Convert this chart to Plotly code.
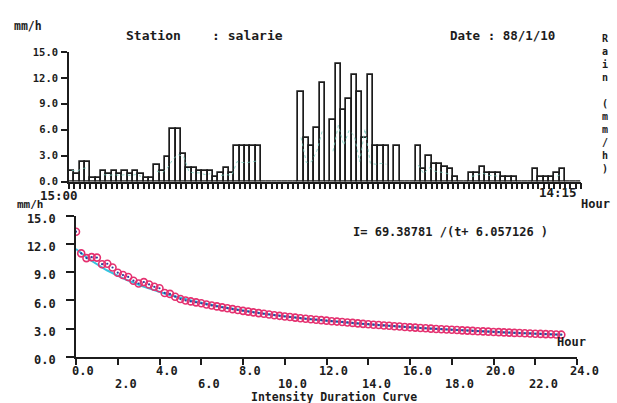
import numpy as np
import plotly.graph_objects as go

W, H = 617, 403

# ---------------- data ----------------
station = "salarie"
date_txt = "88/1/10"
start_label = "15:00"
end_label = "14:15"
right_label = "Rain (mm/h)"

# 15-minute rainfall intensity bars (mm/h), 96 intervals
bar_values = [
    1.25, 0.9, 2.3, 2.3, 0.4, 0.4, 1.25, 0.9, 1.25, 0.9,
    1.25, 0.9, 1.25, 0.9, 0.4, 0.4, 1.9, 1.25, 2.8, 6.1,
    6.1, 3.2, 1.6, 1.6, 1.25, 1.25, 1.25, 0.5, 1.0, 1.6,
    1.0, 4.15, 4.15, 4.15, 4.15, 4.15, 0, 0, 0, 0,
    0, 0, 0, 10.4, 5.0, 4.15, 6.2, 11.4, 0, 7.1,
    13.6, 8.3, 9.6, 12.3, 10.4, 5.0, 12.3, 4.15, 4.15, 4.15,
    0, 4.15, 0, 0, 0, 4.15, 1.5, 3.0, 2.0, 2.0,
    1.65, 1.4, 0.55, 0, 0, 1.0, 1.0, 1.65, 1.0, 1.0,
    1.0, 0.55, 0.55, 0.55, 0, 0, 0, 1.4, 0.55, 0.55,
    0.55, 1.0, 1.4, 0, 0, 0,
]

# faint secondary trace drawn inside the bars
inner_values = [
    1.3, 1.2, 1.5, 1.6, None, None, 0.8, 0.7, 0.8, 0.7,
    0.8, 0.7, 0.8, 0.6, None, None, 1.2, 1.0, 1.6, 2.6,
    3.1, 2.9, 1.1, 1.0, 1.0, 0.8, 0.9, None, 0.7, 0.8,
    0.7, 2.3, 2.2, 2.2, 2.3, 2.4, None, None, None, None,
    None, None, None, 5.1, 2.2, 2.3, 3.6, 5.9, None, 3.5,
    6.5, 4.2, 5.9, 5.3, 2.3, 6.1, 2.1, 2.0, 2.1, 2.0,
    None, 2.0, None, None, None, 1.9, 0.9, 1.6, 1.2, 1.1,
    1.0, 0.8, None, None, None, 0.6, 0.7, 1.0, 0.7, 0.7,
    0.6, None, None, None, None, None, None, 0.9, None, None,
    None, 0.6, 0.9, None, None, None,
]

# intensity-duration observations (mm/h), every 0.25 h
idf_values = [
    13.3, 11.0, 10.5, 10.6, 10.55, 9.85, 9.9, 9.5, 8.95, 8.7,
    8.5, 8.1, 7.8, 7.95, 7.7, 7.45, 7.3, 6.8, 6.7, 6.4,
    6.15, 6.0, 5.9, 5.8, 5.7, 5.58, 5.47, 5.37, 5.27, 5.18,
    5.08, 4.99, 4.9, 4.82, 4.74, 4.66, 4.59, 4.51, 4.44, 4.37,
    4.3, 4.24, 4.18, 4.12, 4.06, 4.01, 3.96, 3.91, 3.86, 3.8,
    3.76, 3.72, 3.67, 3.62, 3.57, 3.52, 3.48, 3.43, 3.39, 3.35,
    3.31, 3.27, 3.23, 3.19, 3.15, 3.12, 3.08, 3.05, 3.01, 2.98,
    2.95, 2.92, 2.89, 2.86, 2.83, 2.8, 2.77, 2.74, 2.72, 2.69,
    2.66, 2.64, 2.61, 2.59, 2.56, 2.54, 2.52, 2.5, 2.47, 2.45,
    2.43, 2.41, 2.39, 2.37,
]
idf_step = 0.25
fit_a = 69.38781
fit_b = 6.057126

y_ticks = [0, 3, 6, 9, 12, 15]
x2_ticks_upper = [0, 4, 8, 12, 16, 20, 24]
x2_ticks_lower = [2, 6, 10, 14, 18, 22]

# ---------------- figure ----------------
FONT = "DejaVu Sans Mono"
INK = "#1c1c1c"


def px_x(x):
    return x / W


def px_y(y):
    return 1 - y / H


fig = go.Figure()

bar_x = np.arange(len(bar_values)) + 0.5
fig.add_trace(go.Bar(
    x=bar_x, y=bar_values, width=1.0,
    marker=dict(color="white", line=dict(color=INK, width=1.7)),
    xaxis="x", yaxis="y", showlegend=False, hoverinfo="skip",
))
fig.add_trace(go.Scatter(
    x=bar_x, y=inner_values, mode="lines",
    line=dict(color="rgba(110,200,185,0.75)", width=1, dash="dot"),
    connectgaps=False, xaxis="x", yaxis="y", showlegend=False, hoverinfo="skip",
))

t_obs = np.arange(len(idf_values)) * idf_step
t_fit = np.linspace(0, t_obs[-1], 300)
i_fit = fit_a / (t_fit + fit_b)
fig.add_trace(go.Scatter(
    x=t_fit, y=i_fit, mode="lines",
    line=dict(color="#33c4e0", width=2),
    xaxis="x2", yaxis="y2", showlegend=False, hoverinfo="skip",
))
fig.add_trace(go.Scatter(
    x=t_obs, y=idf_values, mode="markers",
    marker=dict(symbol="circle-open", size=7, color="#e4306f", line=dict(width=1.6)),
    xaxis="x2", yaxis="y2", showlegend=False, hoverinfo="skip",
))
fig.add_trace(go.Scatter(
    x=t_obs, y=idf_values, mode="markers",
    marker=dict(symbol="circle", size=2.2, color="#2a3f9a"),
    xaxis="x2", yaxis="y2", showlegend=False, hoverinfo="skip",
))

axis_common = dict(showgrid=False, zeroline=False, showline=True, linecolor=INK,
                   linewidth=1.6, ticks="outside", tickcolor=INK, tickwidth=1.6,
                   fixedrange=True, automargin=False)

fig.update_layout(
    width=W, height=H, autosize=False,
    margin=dict(l=0, r=0, t=0, b=0, pad=0, autoexpand=False),
    paper_bgcolor="white", plot_bgcolor="white",
    font=dict(family=FONT, size=12, color=INK, weight="bold"),
    bargap=0,
    xaxis=dict(domain=[px_x(69), px_x(581)], range=[0, 96], anchor="y",
               tickvals=list(range(0, 97)), ticklen=6, showticklabels=False,
               **axis_common),
    yaxis=dict(domain=[px_y(181.5), px_y(52)], range=[0, 15], anchor="x",
               tickvals=y_ticks, ticktext=[f"{v:.1f}" for v in y_ticks], ticklen=6,
               tickfont=dict(family=FONT, size=10.5, color=INK, weight="bold"),
               ticklabelstandoff=1,
               **axis_common),
    xaxis2=dict(domain=[px_x(76), px_x(577)], range=[0, 24], anchor="y2",
                tickvals=list(range(0, 25, 2)), ticklen=6, showticklabels=False,
                **axis_common),
    yaxis2=dict(domain=[px_y(357), px_y(215.7)], range=[0, 15], anchor="x2",
                tickvals=y_ticks, ticktext=[f"{v:.1f}" for v in y_ticks], ticklen=8,
                tickfont=dict(family=FONT, size=12, color=INK, weight="bold"),
                ticklabelstandoff=8, ticklabelshift=3,
                **axis_common),
)

ann = []


def text(x, y, s, xanchor="left", size=12, xref="paper"):
    ann.append(dict(x=x, y=y, xref=xref, yref="paper", text=s, showarrow=False,
                    xanchor=xanchor, yanchor="middle",
                    font=dict(family=FONT, size=size, color=INK, weight="bold")))


text(px_x(12), px_y(26), "mm/h", size=11.5)
text(px_x(124), px_y(35), f"Station    : {station}", size=13)
text(px_x(448), px_y(36), f"Date : {date_txt}", size=12.5)
text(px_x(38), px_y(195), start_label, size=12.5)
text(px_x(537), px_y(192), end_label, size=12.5)
text(px_x(579), px_y(204.5), "Hour", size=12)

# vertical stacked label on the right (one character per line)
stacked = "<br>".join(ch if ch != " " else " " for ch in right_label)
text(px_x(605), px_y(103.5), stacked, xanchor="center", size=10)

text(px_x(15), px_y(204.5), "mm/h", size=11)
text(px_x(351), px_y(232), f"I= {fit_a} /(t+ {fit_b} )", size=12)
text(px_x(555), px_y(342), "Hour", size=12)
text(px_x(334), px_y(396.5), "Intensity Duration Curve", xanchor="center", size=11.5)

for v in x2_ticks_upper:
    ann.append(dict(x=v, y=px_y(371), xref="x2", yref="paper", text=f"{v:.1f}",
                    showarrow=False, xanchor="center", yanchor="middle", xshift=7,
                    font=dict(family=FONT, size=12, color=INK, weight="bold")))
for v in x2_ticks_lower:
    ann.append(dict(x=v, y=px_y(383.5), xref="x2", yref="paper", text=f"{v:.1f}",
                    showarrow=False, xanchor="center", yanchor="middle", xshift=8,
                    font=dict(family=FONT, size=12, color=INK, weight="bold")))

fig.update_layout(annotations=ann)
fig.write_html(
    "out.html",
    config={"displayModeBar": False},
    post_script="document.body.style.margin='0';document.body.style.overflow='hidden';",
)
